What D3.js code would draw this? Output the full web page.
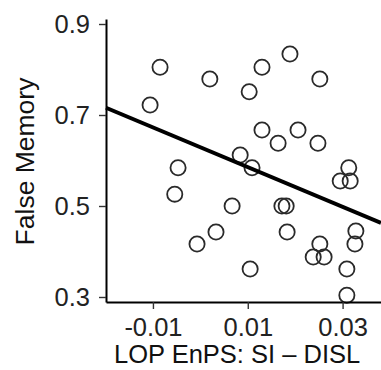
<!DOCTYPE html>
<html>
<head>
<meta charset="utf-8">
<script src="https://cdn.jsdelivr.net/npm/d3@7"></script>
<style>
  html, body { margin: 0; padding: 0; background: #fff; }
  svg { display: block; }
  text { font-family: "Liberation Sans", Arial, Helvetica, sans-serif; }
</style>
</head>
<body>
<svg id="chart" width="381" height="370"></svg>
<script>
const xValues = [-0.0085, 0.0020, -0.0106, 0.0103, 0.0130, 0.0189, 0.0252, 0.0130,
                 0.0164, 0.0206, 0.0248, 0.0084, 0.0109, -0.0047, 0.0313, 0.0295,
                 0.0316, -0.0054, 0.0067, 0.0033, -0.0007, 0.0105, 0.0172, 0.0181,
                 0.0183, 0.0252, 0.0238, 0.0261, 0.0309, 0.0309, 0.0328, 0.0326];
const yValues = [0.805, 0.779, 0.722, 0.751, 0.805, 0.834, 0.779, 0.667,
                 0.638, 0.667, 0.638, 0.612, 0.584, 0.584, 0.584, 0.555,
                 0.555, 0.526, 0.500, 0.443, 0.4165, 0.3615, 0.500, 0.500,
                 0.443, 0.4165, 0.388, 0.388, 0.3615, 0.304, 0.445, 0.4165];
const lineX = [-0.0199, 0.0381];
const lineY = [0.716, 0.463];
const xTicks = [-0.01, 0.01, 0.03];
const yTicks = [0.3, 0.5, 0.7, 0.9];
const xTitle = "LOP EnPS: SI \u2013 DISL";
const yTitle = "False Memory";

const svg = d3.select("#chart");
const x = d3.scaleLinear().domain([-0.0199, 0.0381]).range([106, 381]);
const y = d3.scaleLinear().domain([0.289, 0.911]).range([302, 19]);

// points
svg.append("g").selectAll("circle")
  .data(xValues.map((v, i) => ({x: v, y: yValues[i]})))
  .join("circle")
  .attr("cx", d => x(d.x))
  .attr("cy", d => y(d.y))
  .attr("r", 7.6)
  .attr("fill", "none")
  .attr("stroke", "#2a2a2a")
  .attr("stroke-width", 1.8);

// regression line
svg.append("path")
  .datum(lineX.map((v, i) => [v, lineY[i]]))
  .attr("d", d3.line().x(d => x(d[0])).y(d => y(d[1])))
  .attr("fill", "none")
  .attr("stroke", "#000")
  .attr("stroke-width", 4);

// axes
const xAxis = svg.append("g")
  .attr("transform", "translate(0,302)")
  .call(d3.axisBottom(x).tickValues(xTicks).tickFormat(d => d < 0 ? "-" + Math.abs(d).toFixed(2) : d.toFixed(2))
        .tickSize(7).tickPadding(9).tickSizeOuter(0));
const yAxis = svg.append("g")
  .attr("transform", "translate(106,0)")
  .call(d3.axisLeft(y).tickValues(yTicks).tickFormat(d3.format(".1f"))
        .tickSize(7).tickPadding(9).tickSizeOuter(0));

[xAxis, yAxis].forEach(g => {
  g.select(".domain").attr("stroke", "#000").attr("stroke-width", 2);
  g.selectAll(".tick line").attr("stroke", "#333").attr("stroke-width", 1.4);
  g.selectAll(".tick text").attr("fill", "#222").style("font-size", "25.5px");
});

// titles
svg.append("text")
  .attr("x", 114).attr("y", 363)
  .attr("fill", "#111")
  .style("font-size", "25.5px")
  .text(xTitle);

svg.append("text")
  .attr("transform", "translate(34,161.5) rotate(-90)")
  .attr("text-anchor", "middle")
  .attr("fill", "#111")
  .style("font-size", "26.5px")
  .text(yTitle);
</script>
</body>
</html>
